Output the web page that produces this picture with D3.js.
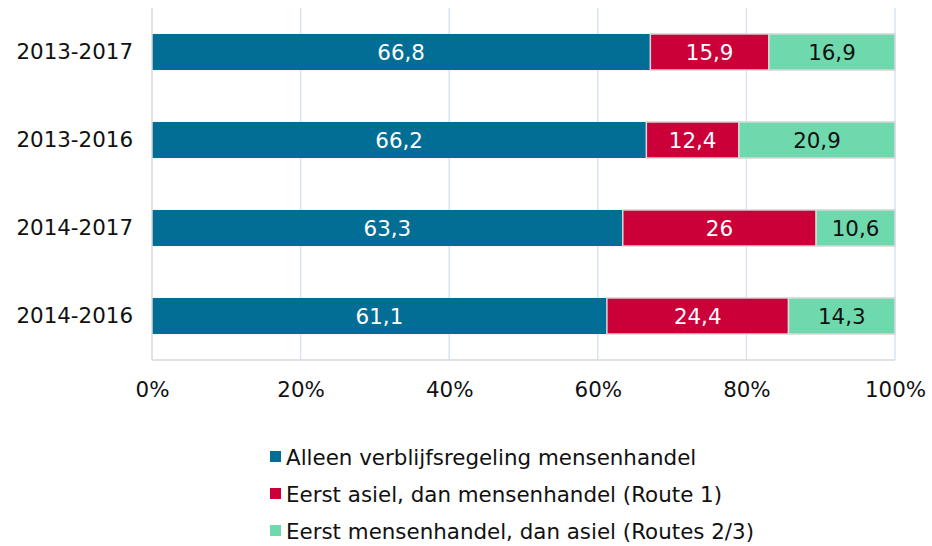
<!DOCTYPE html>
<html>
<head>
<meta charset="utf-8">
<script src="https://cdn.jsdelivr.net/npm/d3@7"></script>
<style>
  body { margin: 0; background: #fff; }
  svg { display: block; font-family: "DejaVu Sans", Verdana, sans-serif; }
</style>
</head>
<body>
<svg id="chart" width="932" height="546"></svg>
<script>
const categories = ["2013-2017", "2013-2016", "2014-2017", "2014-2016"];
const seriesNames = [
  "Alleen verblijfsregeling mensenhandel",
  "Eerst asiel, dan mensenhandel (Route 1)",
  "Eerst mensenhandel, dan asiel (Routes 2/3)"
];
const alleen = [66.8, 66.2, 63.3, 61.1];
const route1 = [15.9, 12.4, 26, 24.4];
const route23 = [16.9, 20.9, 10.6, 14.3];
const tickValues = [0, 0.2, 0.4, 0.6, 0.8, 1.0];
const colors = ["#036E95", "#CC0039", "#6FD9AE"];
const labelColors = ["#ffffff", "#ffffff", "#111111"];

const FS = 21.4;
const svg = d3.select("#chart");
const margin = { left: 152, right: 37, top: 8, bottom: 186 };
const W = 932, H = 546;

const x = d3.scaleLinear().domain([0, 1]).range([margin.left, W - margin.right]);
const y = d3.scaleBand().domain(categories).range([margin.top, H - margin.bottom])
  .paddingInner(0.59).paddingOuter(0.295);

const rows = categories.map((c, i) => ({ cat: c, v: [alleen[i], route1[i], route23[i]] }));

// gridlines
svg.append("g").selectAll("line").data(tickValues.slice(1)).join("line")
  .attr("x1", d => x(d)).attr("x2", d => x(d))
  .attr("y1", margin.top).attr("y2", H - margin.bottom)
  .attr("stroke", "#D9E3F2").attr("stroke-width", 1.5);

// bars
const stacked = [];
rows.forEach(r => {
  const total = d3.sum(r.v);
  let acc = 0;
  r.v.forEach((v, k) => {
    stacked.push({ cat: r.cat, k, v, x0: acc / total, x1: (acc + v) / total });
    acc += v;
  });
});

svg.append("g").selectAll("rect").data(stacked).join("rect")
  .attr("x", d => x(d.x0)).attr("width", d => x(d.x1) - x(d.x0))
  .attr("y", d => y(d.cat)).attr("height", y.bandwidth())
  .attr("fill", d => colors[d.k])
  .attr("stroke", d => d.k === 0 ? "none" : "#D9D9D9")
  .attr("stroke-width", 1.5);

svg.append("g").selectAll("text").data(stacked).join("text")
  .attr("x", d => (x(d.x0) + x(d.x1)) / 2)
  .attr("y", d => y(d.cat) + y.bandwidth() / 2)
  .attr("dy", "0.36em")
  .attr("text-anchor", "middle")
  .attr("font-size", FS)
  .attr("fill", d => labelColors[d.k])
  .text(d => String(d.v).replace(".", ","));

// axes lines
svg.append("line")
  .attr("x1", x(0)).attr("x2", x(0)).attr("y1", margin.top).attr("y2", H - margin.bottom)
  .attr("stroke", "#D9D9D9").attr("stroke-width", 1.5);
svg.append("line")
  .attr("x1", x(0)).attr("x2", x(1)).attr("y1", H - margin.bottom).attr("y2", H - margin.bottom)
  .attr("stroke", "#D9D9D9").attr("stroke-width", 1.5);

// x tick labels
const xAxis = d3.axisBottom(x).tickValues(tickValues).tickSize(0).tickPadding(0)
  .tickFormat(d => Math.round(d * 100) + "%");
const gx = svg.append("g").attr("transform", `translate(0, ${H - margin.bottom + 22})`).call(xAxis);
gx.select(".domain").remove();
gx.selectAll("text").attr("font-size", FS).attr("font-family", "DejaVu Sans, Verdana, sans-serif")
  .attr("fill", "#111").attr("dy", "0.71em");

// y labels
const yAxis = d3.axisLeft(y).tickSize(0).tickPadding(19);
const gy = svg.append("g").attr("transform", `translate(${margin.left}, 0)`).call(yAxis);
gy.select(".domain").remove();
gy.selectAll("text").attr("font-size", FS).attr("font-family", "DejaVu Sans, Verdana, sans-serif")
  .attr("fill", "#111");

// legend
const legend = svg.append("g").selectAll("g").data(seriesNames).join("g")
  .attr("transform", (d, i) => `translate(270, ${457 + i * 37})`);
legend.append("rect").attr("x", 0).attr("y", -6).attr("width", 11).attr("height", 11)
  .attr("fill", (d, i) => colors[i]);
legend.append("text").attr("x", 16).attr("y", 0).attr("dy", "0.36em")
  .attr("font-size", FS).attr("fill", "#111").text(d => d);
</script>
</body>
</html>
